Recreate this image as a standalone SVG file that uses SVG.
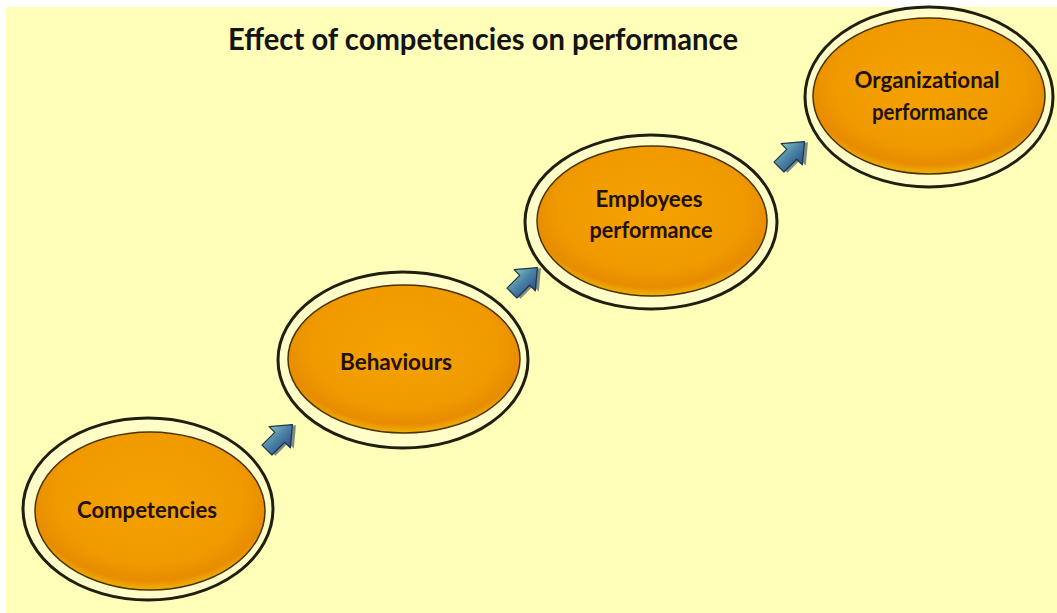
<svg xmlns="http://www.w3.org/2000/svg" width="1057" height="613" viewBox="0 0 1057 613">
  <style>
    .ring { fill: #FFFDC8; stroke: #1f1f0c; stroke-width: 3; }
    .core { fill: url(#orange); stroke: #4a3300; stroke-width: 1.5; }
    .label { font-family: Lato, "Open Sans", "Liberation Sans", sans-serif; font-weight: 700; font-size: 23px; fill: #22100a; text-anchor: middle; }
    .title { font-family: Lato, "Open Sans", "Liberation Sans", sans-serif; font-weight: 700; font-size: 31px; fill: #141414; }
    .arrow { fill: url(#blue); stroke: #1d3450; stroke-width: 1.2; stroke-linejoin: round; }
    .arrowShadow { fill: #1a2f48; opacity: 0.55; }
  </style>
  <defs>
    <radialGradient id="orange" cx="50%" cy="42%" r="58%">
      <stop offset="0%" stop-color="#F5A200"/>
      <stop offset="70%" stop-color="#F09A00"/>
      <stop offset="90%" stop-color="#E88C00"/>
      <stop offset="100%" stop-color="#EFB300"/>
    </radialGradient>
    <linearGradient id="blue" x1="0" y1="0" x2="0" y2="1">
      <stop offset="0%" stop-color="#86C6B8"/>
      <stop offset="45%" stop-color="#4D86A8"/>
      <stop offset="100%" stop-color="#2A4F86"/>
    </linearGradient>
    <g id="arr">
      <polygon class="arrowShadow" points="-15,-4 3,-4 3,-12 21,3 3,18 3,10 -15,10"/>
      <polygon class="arrow" points="-17,-7 1,-7 1,-15 19,0 1,15 1,7 -17,7"/>
    </g>
  </defs>

  <rect x="0" y="0" width="1057" height="613" fill="#FFFFFF"/>
  <rect x="6" y="7" width="1051" height="606" fill="#FFFFBA"/>

  <text class="title" x="228" y="50" textLength="510" lengthAdjust="spacingAndGlyphs">Effect of competencies on performance</text>

  <g id="connectors">
    <use href="#arr" transform="translate(279,438) rotate(-45)"/>
    <use href="#arr" transform="translate(524,281) rotate(-45)"/>
    <use href="#arr" transform="translate(791,155) rotate(-45)"/>
  </g>

  <g id="node-competencies">
    <ellipse class="ring" cx="148" cy="509" rx="125" ry="91"/>
    <ellipse class="core" cx="150" cy="511" rx="115" ry="79"/>
    <text class="label" x="147" y="518" textLength="140" lengthAdjust="spacingAndGlyphs">Competencies</text>
  </g>

  <g id="node-behaviours">
    <ellipse class="ring" cx="403" cy="360" rx="125" ry="88"/>
    <ellipse class="core" cx="404" cy="359" rx="116" ry="74"/>
    <text class="label" x="396" y="370" textLength="112" lengthAdjust="spacingAndGlyphs">Behaviours</text>
  </g>

  <g id="node-employees">
    <ellipse class="ring" cx="651" cy="222" rx="126" ry="87"/>
    <ellipse class="core" cx="652" cy="221" rx="115" ry="75"/>
    <text class="label" x="649" y="207" textLength="107" lengthAdjust="spacingAndGlyphs">Employees</text>
    <text class="label" x="651" y="238" textLength="123" lengthAdjust="spacingAndGlyphs">performance</text>
  </g>

  <g id="node-organizational">
    <ellipse class="ring" cx="929" cy="97" rx="124" ry="90"/>
    <ellipse class="core" cx="929" cy="96" rx="116" ry="78"/>
    <text class="label" x="927" y="88" textLength="145" lengthAdjust="spacingAndGlyphs">Organizational</text>
    <text class="label" x="930" y="120" textLength="116" lengthAdjust="spacingAndGlyphs">performance</text>
  </g>
</svg>
